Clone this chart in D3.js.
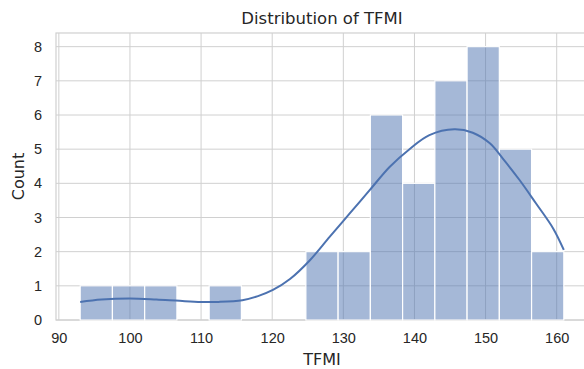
<!DOCTYPE html>
<html>
<head>
<meta charset="utf-8">
<script src="https://cdn.jsdelivr.net/npm/d3@7"></script>
<style>
  body { margin: 0; background: #fff; }
  svg { display: block; font-family: "DejaVu Sans", sans-serif; }
  .grid line { stroke: #d0d0d0; stroke-width: 1; }
  .tick text { fill: #262626; font-size: 14.5px; }
</style>
</head>
<body>
<div id="chart"></div>
<script>
// Histogram bins (15 equal bins from 93 to 161) and counts
const binStart = 93;
const binEnd = 161;
const counts = [1, 1, 1, 0, 1, 0, 0, 2, 2, 6, 4, 7, 8, 5, 2];

// KDE curve (TFMI value, scaled count)
const kdeX = [93, 96, 100, 103.7, 107, 110, 112.5, 115.8, 118, 120.1, 122.5, 125.3, 128.1,
              130.9, 133.7, 136.5, 139.3, 142.1, 145.6, 148.2, 150.6, 152.4, 154.8, 157.1, 159.5, 161];
const kdeY = [0.53, 0.6, 0.63, 0.6, 0.56, 0.53, 0.53, 0.58, 0.7, 0.88, 1.2, 1.75, 2.44,
              3.12, 3.8, 4.48, 5.0, 5.41, 5.58, 5.48, 5.17, 4.73, 4.09, 3.41, 2.68, 2.05];

const xTicks = [90, 100, 110, 120, 130, 140, 150, 160];
const yTicks = [0, 1, 2, 3, 4, 5, 6, 7, 8];

const W = 584, H = 369;
const margin = { left: 56, top: 33, right: -4, bottom: 49 };
const innerW = W - margin.left - margin.right;
const innerH = H - margin.top - margin.bottom;

const binW = (binEnd - binStart) / counts.length;
const bins = counts.map((c, i) => ({ x0: binStart + i * binW, x1: binStart + (i + 1) * binW, c }));

const pad = (binEnd - binStart) * 0.05;
const x = d3.scaleLinear().domain([binStart - pad, binEnd + pad]).range([0, innerW]);
const y = d3.scaleLinear().domain([0, 8.4]).range([innerH, 0]);

const svg = d3.select('#chart').append('svg').attr('width', W).attr('height', H);
const g = svg.append('g').attr('transform', `translate(${margin.left},${margin.top})`);

// grid
g.append('g').attr('class', 'grid')
  .selectAll('line.v').data(xTicks).join('line')
  .attr('x1', d => x(d)).attr('x2', d => x(d)).attr('y1', 0).attr('y2', innerH);
g.append('g').attr('class', 'grid')
  .selectAll('line.h').data(yTicks).join('line')
  .attr('x1', 0).attr('x2', innerW).attr('y1', d => y(d)).attr('y2', d => y(d));

// frame
g.append('rect').attr('width', innerW).attr('height', innerH)
  .attr('fill', 'none').attr('stroke', '#d0d0d0').attr('stroke-width', 1.2);

// bars
g.append('g').selectAll('rect').data(bins.filter(b => b.c > 0)).join('rect')
  .attr('x', d => x(d.x0)).attr('width', d => x(d.x1) - x(d.x0))
  .attr('y', d => y(d.c)).attr('height', d => y(0) - y(d.c))
  .attr('fill', 'rgba(76,114,176,0.5)')
  .attr('stroke', '#fff').attr('stroke-width', 1.2);

// kde line
const pts = kdeX.map((v, i) => [v, kdeY[i]]);
g.append('path').datum(pts)
  .attr('fill', 'none').attr('stroke', '#4c72b0').attr('stroke-width', 2)
  .attr('d', d3.line().x(d => x(d[0])).y(d => y(d[1])).curve(d3.curveCatmullRom));

// axes
const xAxis = g.append('g').attr('transform', `translate(0,${innerH})`)
  .call(d3.axisBottom(x).tickValues(xTicks).tickSize(0).tickPadding(13));
const yAxis = g.append('g')
  .call(d3.axisLeft(y).tickValues(yTicks).tickSize(0).tickPadding(14));
[xAxis, yAxis].forEach(a => a.select('.domain').remove());

// labels
svg.append('text').attr('x', margin.left + innerW / 2).attr('y', 24)
  .attr('text-anchor', 'middle').attr('fill', '#262626').attr('font-size', 16.5)
  .text('Distribution of TFMI');
svg.append('text').attr('x', margin.left + innerW / 2).attr('y', 365)
  .attr('text-anchor', 'middle').attr('fill', '#262626').attr('font-size', 16)
  .text('TFMI');
svg.append('text').attr('transform', `translate(24,${margin.top + innerH / 2}) rotate(-90)`)
  .attr('text-anchor', 'middle').attr('fill', '#262626').attr('font-size', 16)
  .text('Count');
</script>
</body>
</html>
